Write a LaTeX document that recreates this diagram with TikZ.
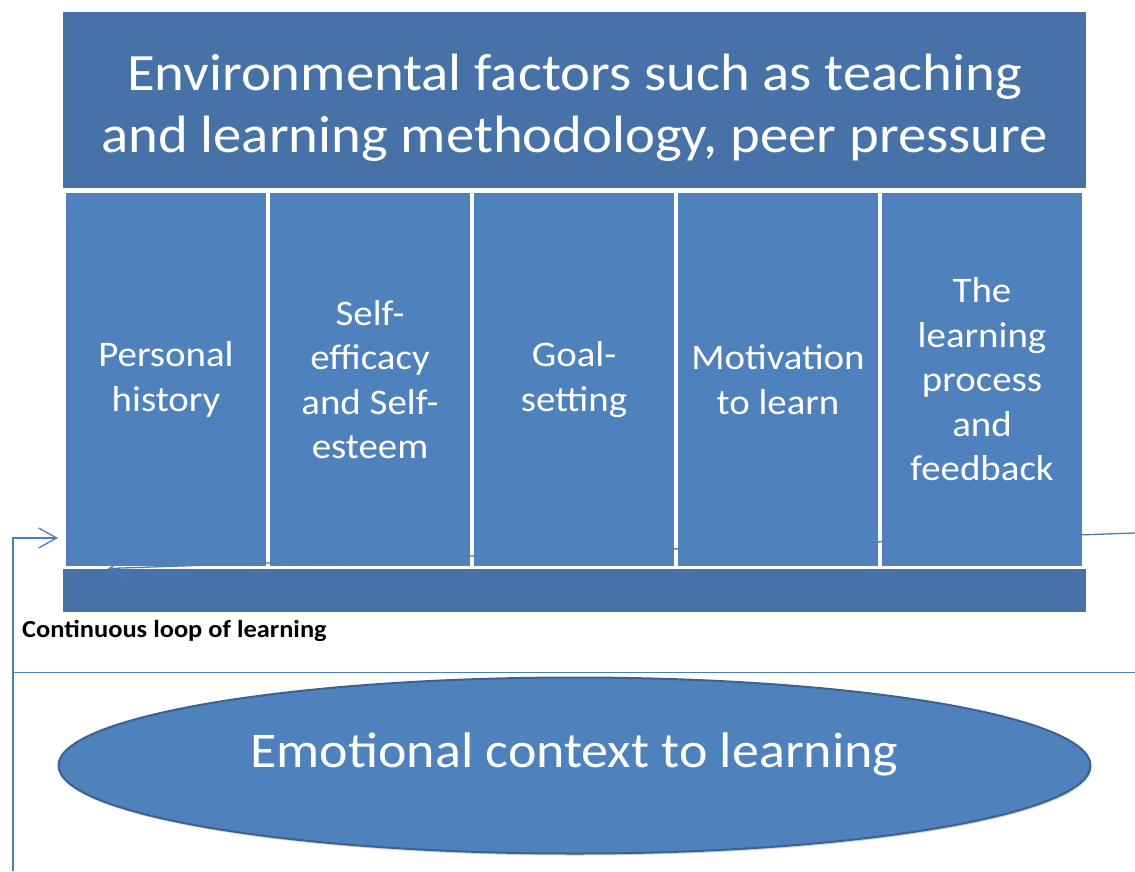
\documentclass[tikz,border=0pt]{standalone}
\usepackage{fontspec}
\setmainfont{Carlito}[FakeStretch=1.08]
\usetikzlibrary{arrows.meta,shapes.geometric,shadows}
\definecolor{bannerblue}{HTML}{4672A8}
\definecolor{colblue}{HTML}{4F81BD}
\definecolor{rimblue}{HTML}{3B6291}
\definecolor{loopblue}{HTML}{4A7EBB}
\tikzset{
  banner/.style={fill=bannerblue,draw=none,inner sep=0pt,minimum width=1023pt,text=white,align=center},
  colbox/.style={fill=colblue,draw=none,inner sep=0pt,minimum width=200pt,minimum height=373pt,
    text=white,align=center,font=\fontsize{36}{44.5}\selectfont},
  loopline/.style={draw=loopblue,line width=1.3pt},
}
\begin{document}
\begin{tikzpicture}[x=1pt,y=-1pt]
      \useasboundingbox (0,0) rectangle (1135,871);
      % top banner and bottom bar
      \node[banner,minimum height=176pt,font=\fontsize{52.5}{62}\selectfont] (env) at (574.5,100)
        {\raisebox{-52pt}[0pt][0pt]{\begin{tabular}[b]{@{}c@{}}Environmental factors such as teaching\\and learning methodology, peer pressure\end{tabular}}};
      \node[banner,minimum height=43pt] (bar) at (574.5,590.5) {};
      % the five columns
      \node[colbox] (hist) at (166,379.5) {Personal\\history};
      \node[colbox] (self) at (370,379.5) {Self-\\efficacy\\and Self-\\esteem};
      \node[colbox] (goal) at (574,379.5) {Goal-\\setting};
      \node[colbox] (motiv) at (778,379.5) {Motivation\\to learn};
      \node[colbox] (proc) at (982,379.5) {The\\learning\\process\\and\\feedback};
      % emotional context
      \node[ellipse,fill=colblue,draw=rimblue,line width=2pt,minimum width=1032pt,minimum height=176pt,
        drop shadow={opacity=0.35,shadow xshift=1pt,shadow yshift=-2pt},
        text=white,font=\fontsize{50}{60}\selectfont] (emo) at (574.5,765.5)
        {\raisebox{-1.5pt}[0pt][0pt]{Emotional context to learning}};
      \node[anchor=base west,inner sep=0pt,font=\fontsize{24.5}{29}\selectfont\bfseries] (looplbl) at (22,637) {Continuous loop of learning};
      % loop connectors
      \coordinate (loopbase) at (13,871);
      \coordinate (loopin) at (58,538);
      \coordinate (sepL) at (13,672.5);
      \coordinate (sepR) at (1135,672.5);
      \coordinate (backR) at (1135,533);
      \coordinate (backL) at (108,568.5);
      \draw[loopline,-{Straight Barb[length=18pt,width=20pt,line width=1.3pt]}] (loopbase) |- (loopin);
      \draw[loopline] (sepL) -- (sepR);
      \draw[loopline,-{Straight Barb[length=16pt,width=19pt,line width=1.3pt]}] (backR) -- (backL);
\end{tikzpicture}
\end{document}
